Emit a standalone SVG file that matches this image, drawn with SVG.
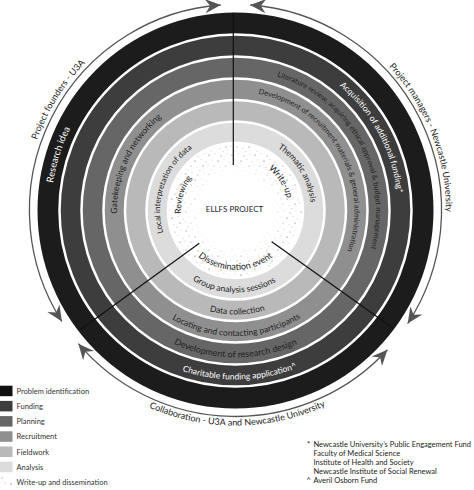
<svg xmlns="http://www.w3.org/2000/svg" xmlns:xlink="http://www.w3.org/1999/xlink" width="474" height="490" viewBox="0 0 474 490">
<style>
  text { font-family: Lato, "Liberation Sans", sans-serif; }
  .dk { fill: #222; }
  .wt { fill: #fff; }
  .sep { fill: none; stroke: #fff; stroke-width: 2.5; }
  .div { stroke: #111; stroke-width: 1.2; fill: none; }
  .arr { fill: none; stroke: #555; stroke-width: 1.3; marker-start: url(#ah); marker-end: url(#ah); }
  .leg { font-size: 7.5px; fill: #333; }
  .fn { font-size: 7.5px; fill: #222; }
</style>
<defs>
  <marker id="ah" markerUnits="userSpaceOnUse" orient="auto-start-reverse" refX="0" refY="0" markerWidth="20" markerHeight="20" viewBox="-12 -6 14 12" overflow="visible">
    <path d="M0,0 L-11,-5 L-7.5,0 L-11,5 Z" fill="#555"/>
  </marker>
  <pattern id="stip" patternUnits="userSpaceOnUse" width="23" height="19">
    <circle cx="2" cy="3" r="0.55" fill="#666"/>
    <circle cx="8" cy="1.5" r="0.4" fill="#999"/>
    <circle cx="14" cy="4" r="0.5" fill="#777"/>
    <circle cx="20" cy="2" r="0.4" fill="#999"/>
    <circle cx="5" cy="8" r="0.45" fill="#888"/>
    <circle cx="11" cy="9" r="0.6" fill="#555"/>
    <circle cx="17" cy="7.5" r="0.4" fill="#999"/>
    <circle cx="22" cy="10" r="0.45" fill="#888"/>
    <circle cx="1" cy="13" r="0.4" fill="#999"/>
    <circle cx="7" cy="14" r="0.5" fill="#777"/>
    <circle cx="13" cy="15.5" r="0.4" fill="#999"/>
    <circle cx="19" cy="14" r="0.55" fill="#666"/>
    <circle cx="4" cy="18" r="0.4" fill="#888"/>
    <circle cx="16" cy="18.5" r="0.45" fill="#888"/>
    <circle cx="10" cy="12" r="0.35" fill="#aaa"/>
    <circle cx="20" cy="17" r="0.35" fill="#aaa"/>
  </pattern>
  <radialGradient id="fade" gradientUnits="userSpaceOnUse" cx="235.5" cy="210.5" r="67.5">
    <stop offset="0" stop-color="#000"/>
    <stop offset="0.5" stop-color="#000"/>
    <stop offset="0.6" stop-color="#555"/>
    <stop offset="0.8" stop-color="#fff"/>
    <stop offset="1" stop-color="#fff"/>
  </radialGradient>
  <mask id="fademask" maskUnits="userSpaceOnUse" x="0" y="0" width="474" height="490">
    <circle cx="235.5" cy="210.5" r="67.5" fill="url(#fade)"/>
  </mask>
  <!-- text paths -->
  <path id="p-research" d="M123.2,356.9 A184.5,184.5 0 0 1 227.5,26.2"/>
  <path id="p-gate" d="M151.7,294.3 A118.5,118.5 0 0 1 245.8,92.5"/>
  <path id="p-local" d="M188.0,269.2 A75.5,75.5 0 0 1 234.2,135.0"/>
  <path id="p-review" d="M202.9,254.2 A54.5,54.5 0 0 1 232.4,156.1"/>
  <path id="p-acq" d="M212.3,49.7 A162.5,162.5 0 0 1 356.6,318.8"/>
  <path id="p-lit" d="M190.9,77.3 A140.5,140.5 0 0 1 323.0,320.5"/>
  <path id="p-devrec" d="M195.8,98.5 A118.8,118.8 0 0 1 311.1,302.2"/>
  <path id="p-them" d="M221.1,136.4 A75.5,75.5 0 0 1 294.2,258.0"/>
  <path id="p-write" d="M224.1,158.7 A53,53 0 0 1 277.5,242.8"/>
  <path id="p-diss" d="M179.6,230.8 A59.5,59.5 0 0 0 291.4,230.8"/>
  <path id="p-group" d="M158.0,237.2 A82,82 0 0 0 312.1,239.9"/>
  <path id="p-data" d="M138.4,247.8 A104,104 0 0 0 333.8,244.4"/>
  <path id="p-loc" d="M117.9,254.5 A125.5,125.5 0 0 0 353.8,252.4"/>
  <path id="p-devres" d="M97.4,260.8 A147,147 0 0 0 373.6,260.8"/>
  <path id="p-char" d="M78.3,272.4 A169,169 0 0 0 395.8,264.1"/>
  <path id="p-found" d="M69.6,340.1 A210.5,210.5 0 0 1 279.3,4.6"/>
  <path id="p-mgr" d="M230.4,0.1 A210.5,210.5 0 0 1 374.7,368.4"/>
  <path id="p-collab" d="M34.1,285.8 A215,215 0 0 0 438.2,282.3"/>
</defs>

<rect width="474" height="490" fill="#fff"/>

<g id="rings">
  <circle id="ring-problem" cx="235.5" cy="210.5" r="198" fill="#1c1c1c"/>
  <circle id="ring-funding" cx="235.5" cy="210.5" r="176" fill="#3d3d3d"/>
  <circle id="ring-planning" cx="235.5" cy="210.5" r="154" fill="#666"/>
  <circle id="ring-recruitment" cx="235.5" cy="210.5" r="132" fill="#8f8f8f"/>
  <circle id="ring-fieldwork" cx="235.5" cy="210.5" r="110.5" fill="#b9b9b9"/>
  <circle id="ring-analysis" cx="235.5" cy="210.5" r="89" fill="#dcdcdc"/>
  <circle id="ring-writeup" cx="235.5" cy="210.5" r="67.5" fill="#fff"/>
  <circle cx="235.5" cy="210.5" r="67.5" fill="url(#stip)" mask="url(#fademask)"/>
  <circle class="sep" cx="235.5" cy="210.5" r="176"/>
  <circle class="sep" cx="235.5" cy="210.5" r="154"/>
  <circle class="sep" cx="235.5" cy="210.5" r="132"/>
  <circle class="sep" cx="235.5" cy="210.5" r="110.5"/>
  <circle class="sep" cx="235.5" cy="210.5" r="89"/>
  <circle class="sep" cx="235.5" cy="210.5" r="67.5"/>
</g>

<g id="connectors">
  <line class="div" x1="233.3" y1="12.7" x2="233.3" y2="165"/>
  <line class="div" x1="199.3" y1="243.3" x2="80" y2="330"/>
  <line class="div" x1="271.7" y1="241.7" x2="393.3" y2="328.3"/>
  <path class="arr" d="M61.9,321.5 A206,206 0 0 1 220.8,5.0"/>
  <path class="arr" d="M250.2,5.0 A206,206 0 0 1 407.7,323.6"/>
  <path class="arr" d="M387.4,349.7 A206,206 0 0 1 78.4,343.7"/>
</g>

<g id="center">
  <text x="234.5" y="212" font-size="8" text-anchor="middle" class="dk">ELLFS PROJECT</text>
</g>

<g id="sector-left">
  <text font-size="9.5" class="wt"><textPath href="#p-research" startOffset="50%" text-anchor="middle">Research idea</textPath></text>
  <text font-size="8.7" class="dk"><textPath href="#p-gate" startOffset="50%" text-anchor="middle">Gatekeeping and networking</textPath></text>
  <text font-size="8" class="dk"><textPath href="#p-local" startOffset="50%" text-anchor="middle">Local interpretation of data</textPath></text>
  <text font-size="8.5" class="dk"><textPath href="#p-review" startOffset="50%" text-anchor="middle">Reviewing</textPath></text>
</g>

<g id="sector-right">
  <text font-size="8.5" class="wt"><textPath href="#p-acq" startOffset="50%" text-anchor="middle">Acquisition of additional funding*</textPath></text>
  <text font-size="7.4" class="dk"><textPath href="#p-lit" startOffset="50%" text-anchor="middle">Literature review, acquiring ethical approval &amp; budget management</textPath></text>
  <text font-size="7.4" class="dk"><textPath href="#p-devrec" startOffset="50%" text-anchor="middle">Development of recruitment materials &amp; general administration</textPath></text>
  <text font-size="8.5" class="dk"><textPath href="#p-them" startOffset="50%" text-anchor="middle">Thematic analysis</textPath></text>
  <text font-size="9" class="dk"><textPath href="#p-write" startOffset="50%" text-anchor="middle">Write-up</textPath></text>
</g>

<g id="sector-bottom">
  <text font-size="9" class="dk"><textPath href="#p-diss" startOffset="50%" text-anchor="middle">Dissemination event</textPath></text>
  <text font-size="8.5" class="dk"><textPath href="#p-group" startOffset="50%" text-anchor="middle">Group analysis sessions</textPath></text>
  <text font-size="8.5" class="dk"><textPath href="#p-data" startOffset="50%" text-anchor="middle">Data collection</textPath></text>
  <text font-size="8.5" class="dk"><textPath href="#p-loc" startOffset="50%" text-anchor="middle">Locating and contacting participants</textPath></text>
  <text font-size="9" class="dk"><textPath href="#p-devres" startOffset="50%" text-anchor="middle">Development of research design</textPath></text>
  <text font-size="8.5" class="wt"><textPath href="#p-char" startOffset="50%" text-anchor="middle">Charitable funding application^</textPath></text>
</g>

<g id="outer-labels">
  <text font-size="9" class="dk"><textPath href="#p-found" startOffset="50%" text-anchor="middle">Project founders - U3A</textPath></text>
  <text font-size="9" class="dk"><textPath href="#p-mgr" startOffset="50%" text-anchor="middle">Project managers - Newcastle University</textPath></text>
  <text font-size="9" class="dk"><textPath href="#p-collab" startOffset="50%" text-anchor="middle">Collaboration - U3A and Newcastle University</textPath></text>
</g>

<g id="legend">
  <rect x="0" y="385.7" width="12.5" height="10.5" fill="#111"/>
  <text class="leg" x="16.5" y="393.7">Problem identification</text>
  <rect x="0" y="400.9" width="12.5" height="10.5" fill="#3d3d3d"/>
  <text class="leg" x="16.5" y="408.9">Funding</text>
  <rect x="0" y="416.1" width="12.5" height="10.5" fill="#666"/>
  <text class="leg" x="16.5" y="424.1">Planning</text>
  <rect x="0" y="431.3" width="12.5" height="10.5" fill="#8f8f8f"/>
  <text class="leg" x="16.5" y="439.3">Recruitment</text>
  <rect x="0" y="446.5" width="12.5" height="10.5" fill="#b9b9b9"/>
  <text class="leg" x="16.5" y="454.5">Fieldwork</text>
  <rect x="0" y="461.7" width="12.5" height="10.5" fill="#dcdcdc"/>
  <text class="leg" x="16.5" y="469.7">Analysis</text>
  <rect x="0" y="476.9" width="12.5" height="10.5" fill="url(#stip)"/>
  <text class="leg" x="16.5" y="484.9">Write-up and dissemination</text>
</g>

<g id="footnotes">
  <text class="fn" x="307" y="447">*</text>
  <text class="fn" x="313.5" y="447">Newcastle University’s Public Engagement Fund</text>
  <text class="fn" x="313.5" y="456">Faculty of Medical Science</text>
  <text class="fn" x="313.5" y="465">Institute of Health and Society</text>
  <text class="fn" x="313.5" y="474">Newcastle Institute of Social Renewal</text>
  <text class="fn" x="306.5" y="483">^</text>
  <text class="fn" x="313.5" y="483">Averil Osborn Fund</text>
</g>
</svg>
